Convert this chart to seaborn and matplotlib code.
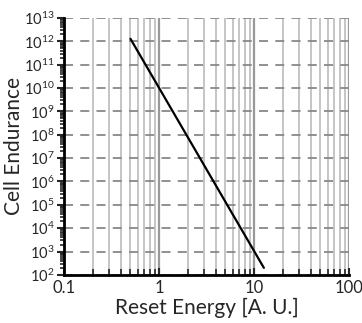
import numpy as np
import pandas as pd
import matplotlib
matplotlib.use("Agg")
import matplotlib.pyplot as plt
import matplotlib.ticker as mticker
import seaborn as sns

# endpoints of the trend line
energy = [0.5, 12.7]
endurance = [1.3e12, 2e2]

df = pd.DataFrame({"energy": energy, "endurance": endurance})

sns.set_style("white")
plt.rcParams['font.family'] = ['Lato', 'DejaVu Sans']

fig = plt.figure(figsize=(3.62, 3.23), dpi=100)
ax = fig.add_axes([0.177, 0.149, 0.787, 0.795])

sns.lineplot(data=df, x="energy", y="endurance", color="black", linewidth=1.6, ax=ax)

ax.set_xscale("log")
ax.set_yscale("log")
ax.set_xlim(0.1, 100)
ax.set_ylim(1e2, 1e13)

# vertical grid: minor and major, solid gray; horizontal: dashed at decades
ax.xaxis.set_minor_locator(mticker.LogLocator(base=10, subs=np.arange(2, 10), numticks=20))
ax.yaxis.set_major_locator(mticker.LogLocator(base=10, numticks=20))
ax.yaxis.set_minor_locator(mticker.LogLocator(base=10, subs=np.arange(2, 10), numticks=20))
ax.yaxis.set_minor_formatter(mticker.NullFormatter())
ax.grid(which="minor", axis="x", color="#bbbbbb", linewidth=1.2, linestyle="-")
ax.grid(which="major", axis="x", color="#999999", linewidth=1.6, linestyle="-")
ax.grid(which="major", axis="y", color="#888888", linewidth=1.3, linestyle=(0, (5, 4)))

ax.xaxis.set_major_formatter(mticker.FuncFormatter(lambda v, p: f"{v:g}"))

for s in ["top", "right"]:
    ax.spines[s].set_visible(False)
for s in ["left", "bottom"]:
    ax.spines[s].set_linewidth(2)
    ax.spines[s].set_color("black")

ax.tick_params(axis="x", which="major", direction="in", length=5, width=1.5, labelsize=12, pad=4, bottom=True)
ax.tick_params(axis="x", which="minor", direction="in", length=4, width=1.2, bottom=True)
ax.tick_params(axis="y", which="major", direction="out", length=5, width=1.5, labelsize=10.5, pad=2, left=True)
ax.tick_params(axis="y", which="minor", direction="out", length=3, width=1.2, left=True)

ax.set_xlabel("Reset Energy [A. U.]", fontsize=15, labelpad=1)
ax.set_ylabel("Cell Endurance", fontsize=15)
ax.yaxis.set_label_coords(-0.14, 0.5)

fig.savefig("out.png", dpi=100)
